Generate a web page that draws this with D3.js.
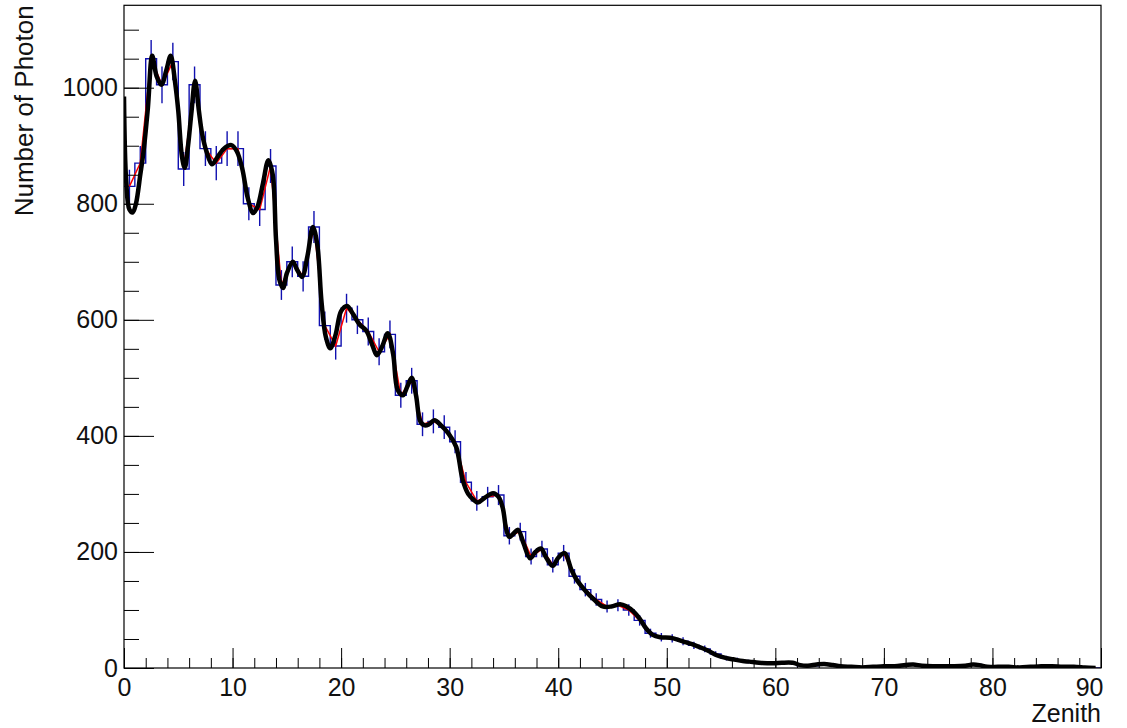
<!DOCTYPE html>
<meta charset='utf-8'>
<style>
	body { margin: 0; background: #fff; }
	text { font-family: 'Liberation Sans', Arial, sans-serif; fill: #111; }
	.axis path { display: none; }
	.axis line { stroke: #000; stroke-width: 1px; }
	.axis text { font-size: 25px; fill: #111; }
</style>
<body>
<script src='https://cdn.jsdelivr.net/npm/d3@7'></script>
<script type='text/javascript'>
	// blue histogram: 1 degree bins, contents per bin (0..89)
	var binCounts = [
		830, 870, 1050, 1005, 1045, 860, 1005, 895, 870, 895,
		895, 800, 790, 865, 660, 700, 675, 760, 590, 555,
		620, 600, 580, 545, 575, 470, 495, 420, 425, 415,
		390, 320, 288, 295, 298, 228, 235, 192, 205, 178,
		198, 158, 135, 118, 106, 108, 100, 82, 60, 53,
		51, 46, 39, 33, 24, 17, 14, 11, 9, 8,
		9, 8, 4, 4, 7, 5, 3, 1, 1, 2,
		3, 3, 6, 4, 3, 3, 3, 4, 6, 2,
		2, 2, 1, 2, 3, 3, 2, 2, 1, 0
	];

	// smoothed black curve, [zenith, photons]
	var smoothX = [
		0, 0.2, 0.5, 0.8, 1.1, 1.5, 1.8, 2.2, 2.6, 3.0, 3.45, 3.9, 4.3, 4.7, 5.0, 5.35, 5.6, 5.9, 6.2, 6.55,
		6.9, 7.2, 7.6, 8.1, 8.6, 9.2, 9.9, 10.4, 10.9, 11.4, 11.9, 12.3, 12.8, 13.3, 13.7, 14.0, 14.3, 14.65, 15.0, 15.55,
		15.9, 16.4, 16.9, 17.4, 17.8, 18.2, 18.6, 19.0, 19.5, 20.0, 20.55, 21.1, 21.7, 22.3, 22.9, 23.3, 23.8, 24.3, 24.8, 25.2,
		25.7, 26.1, 26.5, 26.9, 27.3, 27.7, 28.1, 28.6, 29.2, 29.9, 30.6, 31.2, 31.7, 32.2, 32.6, 33.2, 34.0, 34.5, 34.9, 35.2,
		35.5, 35.9, 36.3, 36.8, 37.4, 37.9, 38.4, 38.9, 39.5, 40.0, 40.6, 41.2, 41.7, 42.6, 43.3, 44.1, 44.9, 45.7, 46.3, 46.9,
		47.5, 48.1, 48.7, 49.4, 50.3, 51.0, 51.8, 52.5, 53.3, 54.0, 54.6, 55.5, 56.1, 57.0, 57.6, 58.5, 59.8, 60.6, 61.6, 62.3,
		63.0, 63.8, 64.5, 65.3, 66.0, 67.0, 68.0, 69.0, 70.0, 71.0, 72.0, 72.7, 73.5, 74.5, 75.5, 76.5, 77.5, 78.2, 78.8, 79.5,
		80.5, 81.5, 82.5, 83.5, 84.5, 85.5, 86.5, 87.5, 88.5, 89.5
	];
	var smoothY = [
		985, 840, 790, 785, 800, 850, 890, 965, 1055, 1020, 1005, 1030, 1055, 1010, 960, 880, 862, 900, 955, 1012,
		960, 920, 890, 868, 880, 895, 901, 890, 860, 810, 784, 795, 835, 875, 850, 740, 670, 655, 680, 700,
		688, 674, 710, 760, 730, 630, 570, 551, 575, 615, 624, 610, 592, 582, 555, 539, 555, 577, 540, 480,
		470, 485, 500, 470, 425, 418, 420, 427, 418, 404, 381, 324, 300, 290, 285, 293, 301, 295, 275, 240,
		226, 232, 238, 215, 189, 200, 206, 190, 176, 190, 198, 170, 152, 131, 118, 106, 106, 110, 106, 98,
		85, 68, 57, 53, 52, 49, 44, 40, 34, 28, 22, 17, 15, 12, 11, 9, 8, 9, 9, 5,
		4, 6, 7, 5, 3, 2, 1, 2, 3, 3, 5, 6, 4, 3, 3, 3, 4, 6, 5, 2,
		2, 2, 1, 2, 3, 3, 2, 2, 1, 0
	];

	var xMajor = d3.range(0, 91, 10);
	var xMinor = d3.range(0, 91, 2);
	var yMajor = [0, 200, 400, 600, 800, 1000];
	var yMinor = d3.range(0, 1101, 50);

	var W = 1127, H = 728;
	var m = {left: 124, right: 1101, top: 5.3, bottom: 668};

	var x = d3.scaleLinear().domain([0, 90]).range([m.left, m.right]);
	var y = d3.scaleLinear().domain([0, 1142]).range([m.bottom, m.top]);

	var svg = d3.select('body').append('svg').attr('width', W).attr('height', H);

	svg.append('clipPath').attr('id', 'frame')
		.append('rect').attr('x', m.left).attr('y', m.top)
		.attr('width', m.right - m.left).attr('height', m.bottom - m.top);

	var plot = svg.append('g').attr('clip-path', 'url(#frame)');

	var bins = binCounts.map(function (v, i) { return {lo: i, hi: i + 1, c: i + 0.5, v: v}; });

	// step histogram
	var stepPts = [];
	bins.forEach(function (b) { stepPts.push([b.lo, b.v]); stepPts.push([b.hi, b.v]); });
	plot.append('path').datum(stepPts)
		.attr('fill', 'none').attr('stroke', '#1010b0').attr('stroke-width', 1.4)
		.attr('d', d3.line().x(function (d) { return x(d[0]); }).y(function (d) { return y(d[1]); }));

	// error bars sqrt(N)
	plot.selectAll('line.err').data(bins).enter().append('line').attr('class', 'err')
		.attr('x1', function (d) { return x(d.c); }).attr('x2', function (d) { return x(d.c); })
		.attr('y1', function (d) { return y(d.v + Math.sqrt(d.v)); })
		.attr('y2', function (d) { return y(d.v - Math.sqrt(d.v)); })
		.attr('stroke', '#1010b0').attr('stroke-width', 1.4);

	// red: straight line through bin centres
	plot.append('path').datum(bins)
		.attr('fill', 'none').attr('stroke', '#ff0000').attr('stroke-width', 1.5)
		.attr('d', d3.line().x(function (d) { return x(d.c); }).y(function (d) { return y(d.v); }));

	// black smoothed curve
	var smooth = smoothX.map(function (v, i) { return [v, smoothY[i]]; });
	plot.append('path').datum(smooth)
		.attr('fill', 'none').attr('stroke', '#000').attr('stroke-width', 4.5)
		.attr('stroke-linejoin', 'round')
		.attr('d', d3.line().curve(d3.curveCatmullRom)
			.x(function (d) { return x(d[0]); }).y(function (d) { return y(d[1]); }));

	// frame
	svg.append('rect').attr('x', m.left).attr('y', m.top)
		.attr('width', m.right - m.left).attr('height', m.bottom - m.top)
		.attr('fill', 'none').attr('stroke', '#000').attr('stroke-width', 1.2);

	// axes, ticks drawn inside the frame
	svg.append('g').attr('class', 'axis').attr('transform', 'translate(0,' + m.bottom + ')')
		.call(d3.axisBottom(x).tickValues(xMinor).tickSize(-10).tickFormat(''));
	var xa = svg.append('g').attr('class', 'axis').attr('transform', 'translate(0,' + m.bottom + ')')
		.call(d3.axisBottom(x).tickValues(xMajor).tickSize(-20).tickPadding(10).tickFormat(d3.format('d')));
	xa.selectAll('.tick').filter(function (d) { return d === 90; }).select('text')
		.attr('text-anchor', 'end').attr('x', 2);

	svg.append('g').attr('class', 'axis').attr('transform', 'translate(' + m.left + ',0)')
		.call(d3.axisLeft(y).tickValues(yMinor).tickSize(-15).tickFormat(''));
	svg.append('g').attr('class', 'axis').attr('transform', 'translate(' + m.left + ',0)')
		.call(d3.axisLeft(y).tickValues(yMajor).tickSize(-30).tickPadding(6).tickFormat(d3.format('d')));

	svg.append('text').attr('x', m.right).attr('y', 722)
		.attr('text-anchor', 'end').attr('font-size', 25).text('Zenith');

	svg.append('text').attr('transform', 'translate(33,' + m.top + ') rotate(-90)')
		.attr('text-anchor', 'end').attr('font-size', 26).text('Number of Photon');
</script>
